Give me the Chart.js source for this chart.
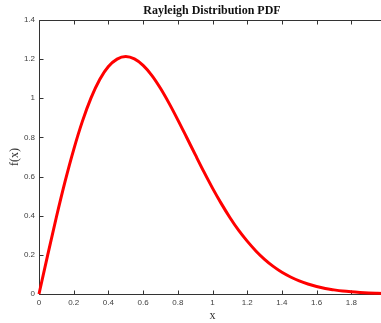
<!DOCTYPE html>
<html>
<head>
<meta charset="utf-8">
<script src="https://cdn.jsdelivr.net/npm/chart.js@4/dist/chart.umd.min.js"></script>
<style>
  html, body { margin: 0; padding: 0; background: #fff; overflow: hidden; }
  #wrap { width: 424px; height: 323px; position: relative; }
</style>
</head>
<body>
<div id="wrap"><canvas id="grafico"></canvas></div>
<script>
// valores (x de 0 a 2, passo 0.05)
const xs = [0, 0.05, 0.1, 0.15, 0.2, 0.25, 0.3, 0.35, 0.4, 0.45, 0.5, 0.55, 0.6, 0.65, 0.7, 0.75, 0.8, 0.85, 0.9, 0.95,
            1, 1.05, 1.1, 1.15, 1.2, 1.25, 1.3, 1.35, 1.4, 1.45, 1.5, 1.55, 1.6, 1.65, 1.7, 1.75, 1.8, 1.85, 1.9, 1.95, 2];
const fx = [0, 0.199, 0.392, 0.574, 0.738, 0.882, 1.002, 1.096, 1.162, 1.200, 1.213, 1.201, 1.168, 1.117, 1.051, 0.974,
            0.890, 0.802, 0.713, 0.625, 0.541, 0.463, 0.391, 0.326, 0.270, 0.220, 0.177, 0.141, 0.111, 0.087, 0.067,
            0.051, 0.038, 0.028, 0.021, 0.015, 0.011, 0.008, 0.0056, 0.004, 0.0027];
const xTicks = [0, 0.2, 0.4, 0.6, 0.8, 1, 1.2, 1.4, 1.6, 1.8, 2];
const yTicks = [0, 0.2, 0.4, 0.6, 0.8, 1, 1.2, 1.4];

const pontos = xs.map((x, i) => ({ x: x, y: fx[i] }));

const sans = "'Liberation Sans', Helvetica, Arial, sans-serif";
const serif = "'Liberation Serif', 'Times New Roman', serif";

// eixos estilo matlab: caixa + ticks para dentro
const eixos = {
    id: 'eixos',
    beforeDatasetsDraw(chart) {
        const c = chart.ctx;
        const a = chart.chartArea;
        const sx = chart.scales.x;
        const sy = chart.scales.y;
        const L = Math.round(a.left) + 0.5, R = Math.round(a.right) + 0.5;
        const T = Math.round(a.top) + 0.5, B = Math.round(a.bottom) + 0.5;
        c.save();
        c.strokeStyle = '#333';
        c.lineWidth = 1;
        c.beginPath();
        c.moveTo(R, T); c.lineTo(L, T); c.lineTo(L, B); c.lineTo(R, B);
        xTicks.forEach(v => {
            const px = Math.round(sx.getPixelForValue(v)) + 0.5;
            c.moveTo(px, B); c.lineTo(px, B - 4);
            c.moveTo(px, T); c.lineTo(px, T + 4);
        });
        yTicks.forEach(v => {
            const py = Math.round(sy.getPixelForValue(v)) + 0.5;
            c.moveTo(L, py); c.lineTo(L + 4, py);
        });
        c.stroke();
        c.restore();
    }
};

const ctx = document.getElementById('grafico').getContext('2d');

const grafico = new Chart(ctx, {
    type: 'scatter',
    data: {
        datasets: [{
            data: pontos,
            showLine: true,
            borderColor: '#ff0000',
            backgroundColor: '#ff0000',
            borderWidth: 3,
            pointRadius: 0,
            cubicInterpolationMode: 'monotone',
            clip: false
        }]
    },
    options: {
        responsive: true,
        maintainAspectRatio: false,
        animation: false,
        layout: { padding: 0 },
        scales: {
            x: {
                type: 'linear',
                min: 0,
                max: 2,
                afterFit: s => { s.height = 29; },
                afterBuildTicks: s => { s.ticks = xTicks.map(v => ({ value: v })); },
                grid: { display: false, drawTicks: false, tickLength: 0 },
                border: { display: false },
                ticks: { color: '#404040', font: { family: sans, size: 8 }, padding: 4, maxRotation: 0, autoSkip: false,
                         callback: v => String(v) },
                title: { display: true, text: 'x', color: '#333', font: { family: serif, size: 12 }, padding: { top: 0, bottom: 0 } }
            },
            y: {
                min: 0,
                max: 1.4,
                afterFit: s => { s.width = 39; },
                afterBuildTicks: s => { s.ticks = yTicks.map(v => ({ value: v })); },
                grid: { display: false, drawTicks: false, tickLength: 0 },
                border: { display: false },
                ticks: { color: '#404040', font: { family: sans, size: 8 }, padding: 4, callback: v => String(v) },
                title: { display: true, text: 'f(x)', color: '#333', font: { family: serif, size: 12 }, padding: { top: 7.5, bottom: 0 } }
            },
            // eixo vazio à direita, só para reservar espaço
            y2: {
                position: 'right',
                display: true,
                min: 0,
                max: 1.4,
                afterFit: s => { s.width = 38; },
                grid: { display: false },
                border: { display: false },
                ticks: { display: false }
            }
        },
        plugins: {
            legend: { display: false },
            tooltip: { enabled: false },
            title: {
                display: true,
                text: 'Rayleigh Distribution PDF',
                color: '#111',
                font: { family: serif, size: 12, weight: 'bold' },
                padding: { top: 3.4, bottom: 2.2 }
            }
        }
    },
    plugins: [eixos]
});
</script>
</body>
</html>
